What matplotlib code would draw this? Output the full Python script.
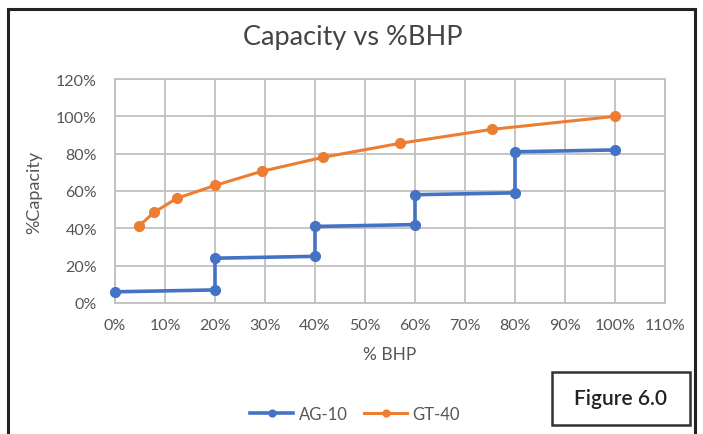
import matplotlib.pyplot as plt
from matplotlib.patches import Rectangle
from matplotlib.ticker import FuncFormatter, MultipleLocator

plt.rcParams['font.family'] = ['Lato', 'DejaVu Sans']

# AG-10 stepped capacity curve (% BHP, % capacity)
ag_bhp = [0, 20, 20, 40, 40, 60, 60, 80, 80, 100]
ag_cap = [6, 7, 24, 25, 41, 42, 58, 59, 81, 82]

# GT-40 curve
gt_bhp = [4.7, 7.8, 12.3, 20, 29.3, 41.5, 56.9, 75.3, 100]
gt_cap = [41, 48.5, 56, 63, 70.5, 78, 85.5, 93, 100]

W, H = 703, 435
fig = plt.figure(figsize=(W / 100, H / 100), dpi=100)
ax = fig.add_axes([115 / W, 1 - 304 / H, 550 / W, 224 / H])

txt = '#555555'
grid = '#c0c0c0'

ax.plot(ag_bhp, ag_cap, color='#4472C4', lw=2.6, marker='o', ms=7,
        label='AG-10', clip_on=False, zorder=3)
ax.plot(gt_bhp, gt_cap, color='#ED7D31', lw=2.2, marker='o', ms=7,
        label='GT-40', clip_on=False, zorder=3)

ax.set_xlim(0, 110)
ax.set_ylim(0, 120)
ax.xaxis.set_major_locator(MultipleLocator(10))
ax.yaxis.set_major_locator(MultipleLocator(20))
pct = FuncFormatter(lambda v, p: '%d%%' % round(v))
ax.xaxis.set_major_formatter(pct)
ax.yaxis.set_major_formatter(pct)
ax.grid(True, color=grid, lw=1.3)
ax.set_axisbelow(True)
for s in ax.spines.values():
    s.set_color(grid)
    s.set_linewidth(1.3)
ax.tick_params(length=0, labelsize=11.5, colors=txt)
ax.tick_params(axis='x', pad=11)
ax.tick_params(axis='y', pad=13)

ax.set_xlabel('% BHP', fontsize=12.5, color=txt, labelpad=10)
ax.set_ylabel('%Capacity', fontsize=13, color=txt, labelpad=10)
fig.text(353 / W, 1 - 38 / H, 'Capacity vs %BHP', ha='center', va='center',
         fontsize=19.5, color='#444444')

ax.legend(loc='center', bbox_to_anchor=(355 / W, 1 - 415 / H),
          bbox_transform=fig.transFigure, ncol=2, frameon=False,
          fontsize=12, labelcolor=txt, handlelength=2.6, columnspacing=1.0,
          handletextpad=0.3, markerscale=0.7)

# outer chart frame and figure label box
fig.patches.append(Rectangle((8 / W, -0.05), 687 / W, 1.05 - 10 / H,
                             transform=fig.transFigure, fill=False,
                             ec='#222222', lw=2.2))
fig.patches.append(Rectangle((552 / W, 1 - 426 / H), 138 / W, 53 / H,
                             transform=fig.transFigure, fill=False,
                             ec='#333333', lw=1.8))
fig.text(621 / W, 1 - 399 / H, 'Figure 6.0', ha='center', va='center',
         fontsize=15, color='#222222', fontweight='semibold')

fig.savefig('out.png', dpi=100)
